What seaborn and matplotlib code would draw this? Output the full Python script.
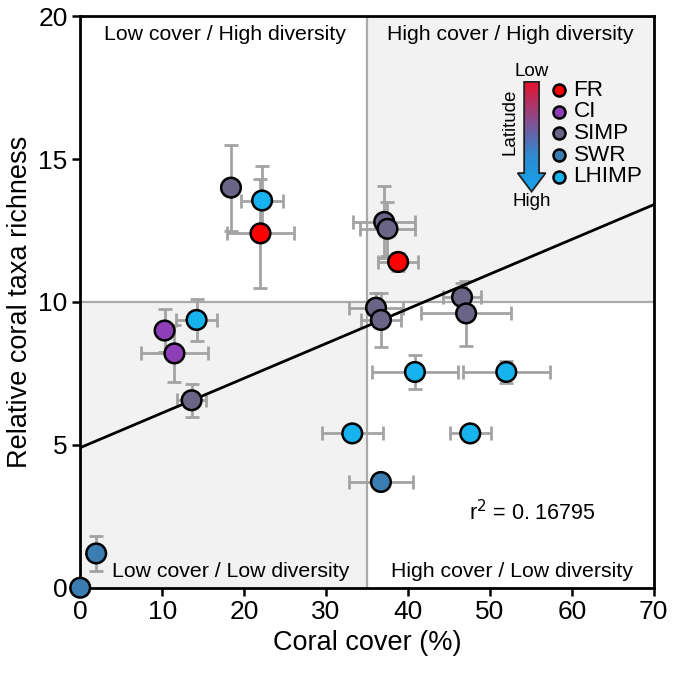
import numpy as np
import pandas as pd
import matplotlib
matplotlib.use("Agg")
import matplotlib.pyplot as plt
import seaborn as sns
from matplotlib.patches import Polygon, Rectangle

# ---- data ----
groups = ["SIMP", "LHIMP", "FR", "CI", "CI", "LHIMP", "SIMP",
          "SIMP", "SIMP", "FR", "SIMP", "SIMP", "SIMP", "SIMP",
          "LHIMP", "LHIMP", "LHIMP", "LHIMP", "SWR", "SWR", "SWR"]
cover = [18.4, 22.2, 22.0, 10.3, 11.5, 14.2, 13.6,
         37.1, 37.5, 38.8, 36.1, 36.7, 46.6, 47.1,
         40.85, 52.0, 33.2, 47.6, 36.7, 1.95, 0.0]
richness = [14.0, 13.55, 12.4, 9.0, 8.2, 9.37, 6.56,
            12.8, 12.56, 11.4, 9.8, 9.37, 10.17, 9.6,
            7.55, 7.55, 5.4, 5.4, 3.7, 1.2, 0.0]
cover_err = [0.0, 2.6, 4.1, 0.0, 4.1, 2.5, 1.8,
             3.8, 3.4, 2.45, 3.3, 2.4, 2.35, 5.5,
             5.2, 5.3, 3.7, 2.5, 3.9, 0.0, 0.0]
rich_err = [1.5, 1.2, 1.9, 0.75, 1.0, 0.72, 0.58,
            1.25, 0.95, 0.33, 0.5, 0.95, 0.5, 1.15,
            0.6, 0.38, 0.0, 0.0, 0.0, 0.6, 0.0]
legend_order = ["FR", "CI", "SIMP", "SWR", "LHIMP"]
palette = {"FR": "#ff0000", "CI": "#8e3fb8", "SIMP": "#6a6587",
           "SWR": "#3a7db2", "LHIMP": "#17b3ef"}
fit_intercept = 4.9
fit_slope = 0.1215
r2_text = "r$^2$ = 0. 16795"
x_threshold = 35
y_threshold = 10

df = pd.DataFrame({"group": groups, "cover": cover, "richness": richness,
                   "cover_err": cover_err, "rich_err": rich_err})

sns.set_style("white")
plt.rcParams["font.family"] = ["Liberation Sans", "DejaVu Sans"]
plt.rcParams["text.color"] = "black"
plt.rcParams["axes.labelcolor"] = "black"
plt.rcParams["xtick.color"] = "black"
plt.rcParams["ytick.color"] = "black"

fig = plt.figure(figsize=(6.74, 6.74), dpi=100)
ax = fig.add_axes([0.119, 0.128, 0.851, 0.848])

xmin, xmax, ymin, ymax = 0, 70, 0, 20
ax.set_xlim(xmin, xmax)
ax.set_ylim(ymin, ymax)

# quadrant shading
shade = "#f2f2f2"
ax.add_patch(Rectangle((xmin, ymin), x_threshold - xmin, y_threshold - ymin,
                       facecolor=shade, edgecolor="none", zorder=0))
ax.add_patch(Rectangle((x_threshold, y_threshold), xmax - x_threshold, ymax - y_threshold,
                       facecolor=shade, edgecolor="none", zorder=0))
ax.axvline(x_threshold, color="#aaaaaa", lw=1.6, zorder=0.5)
ax.axhline(y_threshold, color="#aaaaaa", lw=1.6, zorder=0.5)

# error bars
ax.errorbar(df["cover"], df["richness"], xerr=df["cover_err"], yerr=df["rich_err"],
            fmt="none", ecolor="#a3a3a3", elinewidth=2.0, capsize=5, capthick=2.0,
            zorder=2)

# regression line
xs = np.array([xmin, xmax])
ax.plot(xs, fit_intercept + fit_slope * xs, color="black", lw=2.0, zorder=2.5)

# points
sns.scatterplot(data=df, x="cover", y="richness", hue="group", palette=palette,
                s=200, edgecolor="black", linewidth=1.8, ax=ax, zorder=3,
                legend=False, clip_on=False)
for c in ax.collections:
    c.set_clip_on(False)

# quadrant labels
qfs = 15.3
ax.text(0.2526, 0.968, "Low cover / High diversity", transform=ax.transAxes,
        ha="center", va="center", fontsize=qfs)
ax.text(0.749, 0.968, "High cover / High diversity", transform=ax.transAxes,
        ha="center", va="center", fontsize=qfs)
ax.text(0.263, 0.028, "Low cover / Low diversity", transform=ax.transAxes,
        ha="center", va="center", fontsize=qfs)
ax.text(0.753, 0.028, "High cover / Low diversity", transform=ax.transAxes,
        ha="center", va="center", fontsize=qfs)
ax.text(0.789, 0.131, r2_text, transform=ax.transAxes, ha="center", va="center",
        fontsize=15.5)

# legend (drawn manually for tight spacing)
leg_x, leg_y0, leg_dy = 0.835, (588 - 90) / 572, 21.7 / 572
for i, g in enumerate(legend_order):
    yy = leg_y0 - i * leg_dy
    ax.scatter([leg_x], [yy], s=75, color=palette[g], edgecolor="black",
               linewidth=1.8, transform=ax.transAxes, zorder=5, clip_on=False)
    ax.text(leg_x + 0.025, yy, g, transform=ax.transAxes, ha="left",
            va="center", fontsize=16.2, zorder=5)

# gradient latitude arrow (axes fraction coords)
cx = 0.787
top, shaft_bot, tip = 0.885, 0.7255, 0.693
sw, hw = 0.013, 0.0244
arrow = Polygon([(cx - sw, top), (cx + sw, top), (cx + sw, shaft_bot),
                 (cx + hw, shaft_bot), (cx, tip), (cx - hw, shaft_bot),
                 (cx - sw, shaft_bot)], closed=True, transform=ax.transAxes,
                facecolor="none", edgecolor="#222222", lw=1.3, zorder=4)
cmap = matplotlib.colors.LinearSegmentedColormap.from_list(
    "lat", ["#e8112d", "#8c4a8c", "#2f8ad0", "#12a6ef"])
grad = np.linspace(0, 1, 256).reshape(-1, 1)
im = ax.imshow(grad, cmap=cmap, aspect="auto", transform=ax.transAxes,
               extent=(cx - hw, cx + hw, tip, top), origin="upper", zorder=3.9)
ax.add_patch(arrow)
clip = Polygon(arrow.get_xy(), closed=True, transform=ax.transAxes,
               facecolor="none", edgecolor="none")
ax.add_patch(clip)
im.set_clip_path(clip)
ax.set_xlim(xmin, xmax)
ax.set_ylim(ymin, ymax)
ax.text(cx, 0.904, "Low", transform=ax.transAxes, ha="center", va="center",
        fontsize=13.5)
ax.text(cx, 0.675, "High", transform=ax.transAxes, ha="center", va="center",
        fontsize=13.5)
ax.text(0.749, 0.815, "Latitude", transform=ax.transAxes,
        ha="center", va="center", rotation=90, fontsize=13.5)

# axes styling
for sp in ax.spines.values():
    sp.set_color("black")
    sp.set_linewidth(2.0)
ax.set_xticks(np.arange(0, 71, 10))
ax.set_yticks(np.arange(0, 21, 5))
ax.tick_params(axis="both", direction="out", length=6, width=1.8, labelsize=19,
               bottom=True, left=True, color="black", labelcolor="black", pad=3)
ax.set_xlabel("Coral cover (%)", fontsize=19.5, labelpad=4, color="black")
ax.set_ylabel("Relative coral taxa richness", fontsize=19.5, labelpad=4, color="black")

fig.savefig("out.png", dpi=100)
